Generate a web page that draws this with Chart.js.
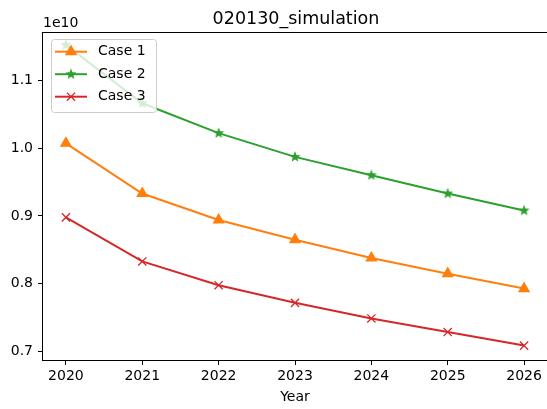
<!DOCTYPE html>
<html>
<head>
<meta charset="utf-8">
<script src="https://cdn.jsdelivr.net/npm/chart.js@4/dist/chart.umd.min.js"></script>
<style>
  html, body { margin: 0; padding: 0; background: #fff; overflow: hidden; }
  canvas { display: block; }
</style>
</head>
<body>
<canvas id="simChart" width="547" height="409"></canvas>
<script>
const years = [2020, 2021, 2022, 2023, 2024, 2025, 2026];
const case1 = [1.007e10, 0.933e10, 0.894e10, 0.865e10, 0.838e10, 0.815e10, 0.793e10];
const case2 = [1.152e10, 1.066e10, 1.022e10, 0.987e10, 0.960e10, 0.933e10, 0.908e10];
const case3 = [0.898e10, 0.833e10, 0.798e10, 0.772e10, 0.749e10, 0.729e10, 0.709e10];
const yTicks = [0.7e10, 0.8e10, 0.9e10, 1.0e10, 1.1e10];
const seriesNames = ['Case 1', 'Case 2', 'Case 3'];
const chartTitle = '020130_simulation';
const xTitle = 'Year';
const yOffsetText = '1e10';

const FONT = "'DejaVu Sans', sans-serif";
const X_RANGE = [2019.7, 2026.3];
const Y_RANGE = [0.6878e10, 1.171e10];

// filled five point star, matplotlib '*' style
function makeStar(color) {
  const c = document.createElement('canvas');
  c.width = 14;
  c.height = 14;
  const ctx = c.getContext('2d');
  ctx.fillStyle = color;
  ctx.beginPath();
  for (let i = 0; i < 10; i++) {
    const r = i % 2 === 0 ? 5.8 : 2.4;
    const a = -Math.PI / 2 + i * Math.PI / 5;
    const px = 7 + r * Math.cos(a);
    const py = 7 + r * Math.sin(a);
    if (i === 0) ctx.moveTo(px, py); else ctx.lineTo(px, py);
  }
  ctx.closePath();
  ctx.fill();
  return c;
}

const colors = ['#ff7f0e', '#2ca02c', '#d62728'];
const markers = ['triangle', makeStar('#2ca02c'), 'crossRot'];

function toPoints(values) {
  return years.map((yr, i) => ({ x: yr, y: values[i] }));
}

function fixTicks(values, range) {
  return (scale) => {
    scale.ticks = values.map(v => ({ value: v }));
    scale.min = range[0];
    scale.max = range[1];
  };
}

const frameAndText = {
  id: 'frameAndText',
  afterDraw(chart) {
    const ctx = chart.ctx;
    const area = chart.chartArea;
    ctx.save();
    // spines: left, top, bottom (the right one is off the picture)
    ctx.strokeStyle = '#000';
    ctx.lineWidth = 1;
    ctx.beginPath();
    ctx.moveTo(area.left - 0.5, area.top + 0.5);
    ctx.lineTo(area.right, area.top + 0.5);
    ctx.moveTo(area.left - 0.5, area.top);
    ctx.lineTo(area.left - 0.5, area.bottom + 1);
    ctx.moveTo(area.left - 1, area.bottom + 0.5);
    ctx.lineTo(area.right, area.bottom + 0.5);
    ctx.stroke();

    ctx.fillStyle = '#000';
    ctx.font = '17.5px ' + FONT;
    ctx.textAlign = 'center';
    ctx.textBaseline = 'alphabetic';
    ctx.fillText(chartTitle, 296, 24);

    ctx.font = '14px ' + FONT;
    ctx.textAlign = 'left';
    ctx.fillText(yOffsetText, 43, 26.5);

    // legend
    const box = { x: 51, y: 39, w: 105, h: 73 };
    ctx.fillStyle = 'rgba(255,255,255,0.8)';
    ctx.strokeStyle = '#cccccc';
    ctx.lineWidth = 1;
    ctx.beginPath();
    ctx.roundRect(box.x + 0.5, box.y + 0.5, box.w, box.h, 3);
    ctx.fill();
    ctx.stroke();

    chart.data.datasets.forEach((ds, i) => {
      const cy = 51.7 + i * 22.5;
      ctx.strokeStyle = ds.borderColor;
      ctx.fillStyle = ds.borderColor;
      ctx.lineWidth = 2;
      ctx.beginPath();
      ctx.moveTo(55, cy);
      ctx.lineTo(87, cy);
      ctx.stroke();
      ctx.lineWidth = ds.pointBorderWidth;
      Chart.helpers.drawPoint(ctx, {
        pointStyle: ds.pointStyle,
        radius: ds.pointRadius,
        rotation: 0,
        borderWidth: ds.pointBorderWidth
      }, 71, cy);
      ctx.fillStyle = '#000';
      ctx.font = '14px ' + FONT;
      ctx.textAlign = 'left';
      ctx.textBaseline = 'middle';
      ctx.fillText(ds.label, 98, cy);
    });
    ctx.restore();
  }
};

new Chart(document.getElementById('simChart'), {
  type: 'line',
  data: {
    datasets: [case1, case2, case3].map((vals, i) => ({
      label: seriesNames[i],
      data: toPoints(vals),
      borderColor: colors[i],
      backgroundColor: colors[i],
      borderWidth: 2,
      tension: 0,
      pointStyle: markers[i],
      pointRadius: 5.8,
      pointHoverRadius: 5.8,
      pointBorderWidth: 1.3,
      pointBackgroundColor: colors[i],
      pointBorderColor: colors[i]
    }))
  },
  options: {
    responsive: false,
    animation: false,
    devicePixelRatio: 1,
    // right spine sits just past the edge of the picture, as in the reference
    layout: { autoPadding: false, padding: { top: 32, left: 0, right: -3, bottom: 0 } },
    plugins: {
      legend: { display: false },
      title: { display: false },
      tooltip: { enabled: false }
    },
    scales: {
      x: {
        type: 'linear',
        min: X_RANGE[0],
        max: X_RANGE[1],
        afterBuildTicks: fixTicks(years, X_RANGE),
        afterFit: (scale) => { scale.height = 49; scale.paddingRight = 0; scale.paddingLeft = 0; },
        border: { display: false },
        grid: { drawOnChartArea: false, drawTicks: true, tickLength: 5, color: '#000' },
        ticks: {
          maxRotation: 0,
          autoSkip: false,
          padding: 3,
          color: '#000',
          font: { family: FONT, size: 14 },
          callback: (v) => String(v)
        },
        title: {
          display: true,
          text: xTitle,
          color: '#000',
          font: { family: FONT, size: 14 },
          padding: { top: 0, bottom: 3 }
        }
      },
      y: {
        min: Y_RANGE[0],
        max: Y_RANGE[1],
        afterBuildTicks: fixTicks(yTicks, Y_RANGE),
        afterFit: (scale) => { scale.width = 43; scale.paddingTop = 0; scale.paddingBottom = 0; },
        border: { display: false },
        grid: { drawOnChartArea: false, drawTicks: true, tickLength: 5, color: '#000' },
        ticks: {
          autoSkip: false,
          padding: 5,
          color: '#000',
          font: { family: FONT, size: 14 },
          callback: (v) => (v / 1e10).toFixed(1)
        }
      }
    }
  },
  plugins: [frameAndText]
});
</script>
</body>
</html>
